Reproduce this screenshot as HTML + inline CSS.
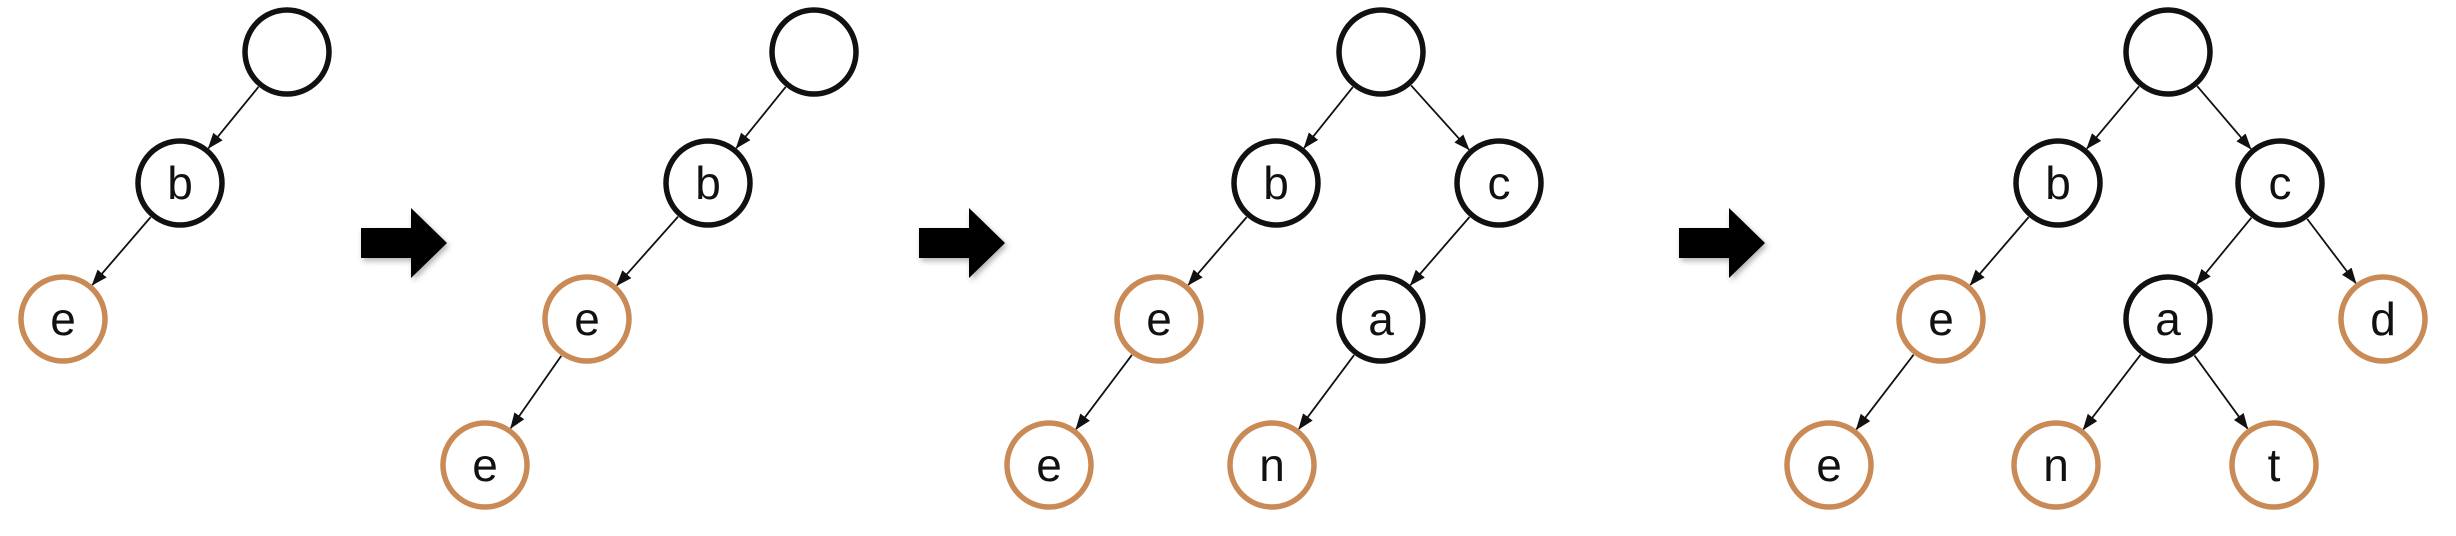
<!DOCTYPE html>
<html><head><meta charset="utf-8"><style>
html,body{margin:0;padding:0;background:#fff;width:2456px;height:536px;overflow:hidden}
svg{display:block}
text{font-family:"Liberation Sans",sans-serif;font-size:46px;text-anchor:middle;fill:#111}
.k{fill:#fff;stroke:#111;stroke-width:5.5}
.o{fill:#fff;stroke:#c98a55;stroke-width:5.5}
</style></head><body>
<svg id="s" width="2456" height="536" viewBox="0 0 2456 536" xmlns="http://www.w3.org/2000/svg">
<defs><marker id="ah" markerWidth="16" markerHeight="12" refX="15" refY="6" orient="auto" markerUnits="userSpaceOnUse" viewBox="0 0 16 12"><path d="M0,0 L16,6 L0,12 z" fill="#111"/></marker>
<filter id="sh"><feDropShadow dx="2" dy="3" stdDeviation="3" flood-opacity="0.3"/></filter></defs>
<g id="lines" stroke="#111" stroke-width="1.8" marker-end="url(#ah)"></g>
<g filter="url(#sh)" fill="#000">
<path d="M361,228 h50 v-20 l36,35 l-36,35 v-20 h-50 z"/>
<path d="M919,228 h50 v-20 l36,35 l-36,35 v-20 h-50 z"/>
<path d="M1679,228 h50 v-20 l36,35 l-36,35 v-20 h-50 z"/>
</g>
<circle class="k" cx="287" cy="52" r="42"/>
<circle class="k" cx="180" cy="183" r="42"/><text x="180" y="199">b</text>
<circle class="o" cx="63" cy="319" r="42"/><text x="63" y="335">e</text>
<circle class="k" cx="814" cy="52" r="42"/>
<circle class="k" cx="708" cy="183" r="42"/><text x="708" y="199">b</text>
<circle class="o" cx="587" cy="319" r="42"/><text x="587" y="335">e</text>
<circle class="o" cx="485" cy="465" r="42"/><text x="485" y="481">e</text>
<circle class="k" cx="1381" cy="52" r="42"/>
<circle class="k" cx="1276" cy="183" r="42"/><text x="1276" y="199">b</text>
<circle class="k" cx="1499" cy="183" r="42"/><text x="1499" y="199">c</text>
<circle class="o" cx="1159" cy="319" r="42"/><text x="1159" y="335">e</text>
<circle class="k" cx="1381" cy="319" r="42"/><text x="1381" y="335">a</text>
<circle class="o" cx="1049" cy="465" r="42"/><text x="1049" y="481">e</text>
<circle class="o" cx="1272" cy="465" r="42"/><text x="1272" y="481">n</text>
<circle class="k" cx="2168" cy="52" r="42"/>
<circle class="k" cx="2058" cy="183" r="42"/><text x="2058" y="199">b</text>
<circle class="k" cx="2280" cy="183" r="42"/><text x="2280" y="199">c</text>
<circle class="o" cx="1941" cy="319" r="42"/><text x="1941" y="335">e</text>
<circle class="k" cx="2168" cy="319" r="42"/><text x="2168" y="335">a</text>
<circle class="o" cx="2383" cy="319" r="42"/><text x="2383" y="335">d</text>
<circle class="o" cx="1829" cy="465" r="42"/><text x="1829" y="481">e</text>
<circle class="o" cx="2056" cy="465" r="42"/><text x="2056" y="481">n</text>
<circle class="o" cx="2274" cy="465" r="42"/><text x="2274" y="481">t</text>
</svg>
<script>
var E=[[287,52,180,183],[180,183,63,319],
[814,52,708,183],[708,183,587,319],[587,319,485,465],
[1381,52,1276,183],[1381,52,1499,183],[1276,183,1159,319],[1499,183,1381,319],[1159,319,1049,465],[1381,319,1272,465],
[2168,52,2058,183],[2168,52,2280,183],[2058,183,1941,319],[2280,183,2168,319],[2280,183,2383,319],[1941,319,1829,465],[2168,319,2056,465],[2168,319,2274,465]];
var g=document.getElementById('lines'),r=45;
E.forEach(function(e){var dx=e[2]-e[0],dy=e[3]-e[1],d=Math.hypot(dx,dy),ux=dx/d,uy=dy/d;
var l=document.createElementNS('http://www.w3.org/2000/svg','line');
l.setAttribute('x1',e[0]+ux*r);l.setAttribute('y1',e[1]+uy*r);
l.setAttribute('x2',e[2]-ux*r);l.setAttribute('y2',e[3]-uy*r);g.appendChild(l);});
</script>
</body></html>
